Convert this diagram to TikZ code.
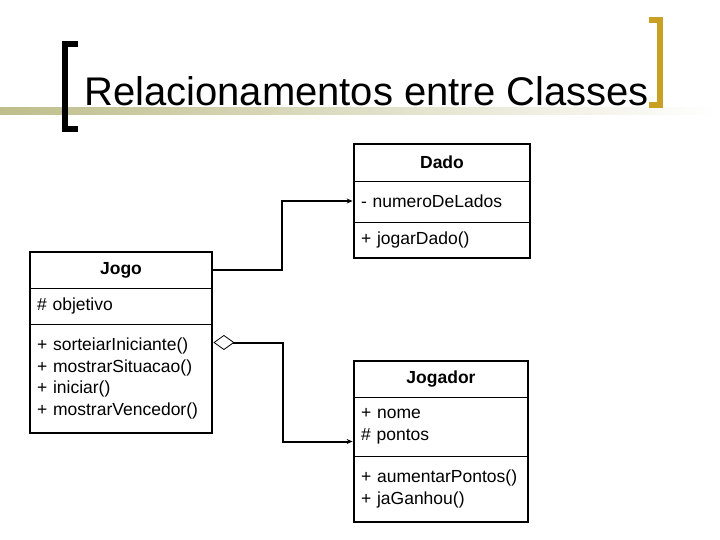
\documentclass[tikz,border=0pt]{standalone}
\usepackage{fontspec}
\setmainfont{Liberation Sans}
\usetikzlibrary{positioning, arrows.meta, fit}

\definecolor{barkhaki}{RGB}{190,190,140}
\definecolor{bracketgold}{RGB}{201,160,36}

\begin{document}
\begin{tikzpicture}[
        x=1pt, y=-1pt,
        >={Stealth[length=6pt, width=5pt]},
        node distance=0pt,
        classtitle/.style={draw, line width=0.8pt, outer sep=0pt, inner xsep=7pt, inner ysep=0pt, align=center, font=\fontsize{17.5}{21.7}\selectfont\bfseries},
        classpart/.style={draw, line width=0.8pt, outer sep=0pt, inner xsep=7pt, inner ysep=0pt, align=left, font=\fontsize{17.5}{21.7}\selectfont},
        classbox/.style={draw, line width=2.8pt, inner sep=0pt},
        link/.style={line width=2pt},
    ]
    \useasboundingbox (0,0) rectangle (720,540);

        % Draw the title with its brackets
        \shade[left color=barkhaki, right color=white] (0,108) rectangle (720,115);
        \node[font=\fontsize{40}{48}\selectfont, anchor=base west, inner sep=0pt] (title) at (84,106) {Relacionamentos entre Classes};
        \draw[line width=6pt] (78,44.5) -- (65,44.5) -- (65,129.5) -- (78,129.5);
        \draw[line width=6pt, bracketgold] (649,20.5) -- (660,20.5) -- (660,105.5) -- (649,105.5);

        % Draw the class Dado
        \node[classtitle, text width=162pt, minimum height=37pt, anchor=north west] (dado) at (354,144) {Dado};
        \node[classpart, text width=162pt, minimum height=41pt, below=of dado] (dado-attr) {- numeroDeLados};
        \node[classpart, text width=162pt, minimum height=36pt, below=of dado-attr] (dado-ops) {+ jogarDado()};
        \node[classbox, fit=(dado)(dado-ops)] (dado-box) {};

        % Draw the class Jogo
        \node[classtitle, text width=168pt, minimum height=36pt, anchor=north west] (jogo) at (30,252) {Jogo};
        \node[classpart, text width=168pt, minimum height=36pt, below=of jogo] (jogo-attr) {\# objetivo};
        \node[classpart, text width=168pt, minimum height=109pt, below=of jogo-attr] (jogo-ops)
            {+ sorteiarIniciante()\\+ mostrarSituacao()\\+ iniciar()\\+ mostrarVencedor()};
        \node[classbox, fit=(jogo)(jogo-ops)] (jogo-box) {};

        % Draw the class Jogador
        \node[classtitle, text width=160pt, minimum height=36pt, anchor=north west] (jogador) at (354,361) {Jogador};
        \node[classpart, text width=160pt, minimum height=59pt, below=of jogador] (jogador-attr) {+ nome\\\# pontos};
        \node[classpart, text width=160pt, minimum height=66pt, below=of jogador-attr] (jogador-ops)
            {+ aumentarPontos()\\+ jaGanhou()};
        \node[classbox, fit=(jogador)(jogador-ops)] (jogador-box) {};

        % Connect Jogo with Dado and Jogador
        \draw[link, ->] (jogo.east) -- ++(70,0) |- (dado-box.west);
        \draw[link, {Diamond[fill=white, length=21pt, width=15pt, line width=0.8pt]}->] (jogo-box.east) -- ++(70,0) |- (jogador-box.west);
\end{tikzpicture}
\end{document}
